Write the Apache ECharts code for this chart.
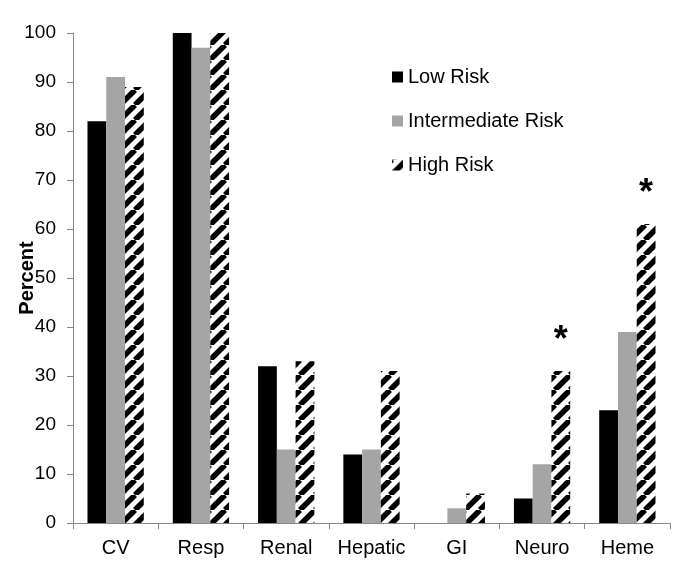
<!DOCTYPE html>
<html>
<head>
<meta charset="utf-8">
<script src="https://cdn.jsdelivr.net/npm/echarts@6/dist/echarts.min.js"></script>
<style>
html,body{margin:0;padding:0;background:#fff;}
#chart{width:692px;height:576px;}
</style>
</head>
<body>
<div id="chart"></div>
<script>
const categories = ['CV', 'Resp', 'Renal', 'Hepatic', 'GI', 'Neuro', 'Heme'];
const lowRisk = [82, 100, 32, 14, 0, 5, 23];
const intermediateRisk = [91, 97, 15, 15, 3, 12, 39];
const highRisk = [89, 100, 33, 31, 6, 31, 61];
const highSignificant = [false, false, false, false, false, true, true];
const yTicks = { min: 0, max: 100, interval: 10 };

function makeHatch() {
  const s = 15;
  const c = document.createElement('canvas');
  c.width = s; c.height = s;
  const ctx = c.getContext('2d');
  ctx.fillStyle = '#fff';
  ctx.fillRect(0, 0, s, s);
  ctx.strokeStyle = '#000';
  ctx.lineWidth = 5.5;
  for (let k = -1; k <= 1; k++) {
    ctx.beginPath();
    ctx.moveTo(k * s, s);
    ctx.lineTo(k * s + s, 0);
    ctx.stroke();
  }
  return c;
}
const hatch = { image: makeHatch(), repeat: 'repeat' };

const font = 'Liberation Sans, Arial, sans-serif';
const chart = echarts.init(document.getElementById('chart'));
chart.setOption({
  animation: false,
  backgroundColor: '#fff',
  grid: { left: 73, right: 22, top: 33, bottom: 53, containLabel: false, outerBoundsMode: 'none' },
  legend: {
    orient: 'vertical',
    left: 392,
    top: 67,
    padding: 0,
    itemWidth: 11,
    itemHeight: 11,
    itemGap: 24,
    icon: 'rect',
    textStyle: { fontFamily: font, fontSize: 20, color: '#000' },
    data: ['Low Risk', 'Intermediate Risk', 'High Risk']
  },
  xAxis: {
    type: 'category',
    data: categories,
    axisLine: { lineStyle: { color: '#888', width: 1 } },
    axisTick: { show: true, interval: 0, length: 6, lineStyle: { color: '#888' } },
    axisLabel: { interval: 0, hideOverlap: false, fontFamily: font, fontSize: 20, color: '#000', margin: 15 }
  },
  yAxis: {
    type: 'value',
    min: yTicks.min,
    max: yTicks.max,
    interval: yTicks.interval,
    name: 'Percent',
    nameLocation: 'middle',
    nameRotate: 90,
    nameGap: 36,
    nameMoveOverlap: false,
    nameTextStyle: { fontFamily: font, fontSize: 20, fontWeight: 'bold', color: '#000' },
    splitLine: { show: false },
    axisLine: { show: true, lineStyle: { color: '#888', width: 1 } },
    axisTick: { show: true, length: 6, lineStyle: { color: '#888' } },
    axisLabel: { fontFamily: font, fontSize: 19, color: '#000', margin: 17 }
  },
  series: [
    {
      name: 'Low Risk', type: 'bar', data: lowRisk,
      barGap: '0%', barCategoryGap: '34%',
      itemStyle: { color: '#000' }
    },
    {
      name: 'Intermediate Risk', type: 'bar', data: intermediateRisk,
      barGap: '0%', barCategoryGap: '34%',
      itemStyle: { color: '#a5a5a5' }
    },
    {
      name: 'High Risk', type: 'bar',
      data: highRisk.map((v, i) => highSignificant[i]
        ? { value: v, label: { show: true, formatter: '*', position: 'top', distance: 12,
            fontFamily: font, fontSize: 36, fontWeight: 'bold', color: '#000' } }
        : v),
      barGap: '0%', barCategoryGap: '34%',
      itemStyle: { color: hatch }
    }
  ]
});
</script>
</body>
</html>
